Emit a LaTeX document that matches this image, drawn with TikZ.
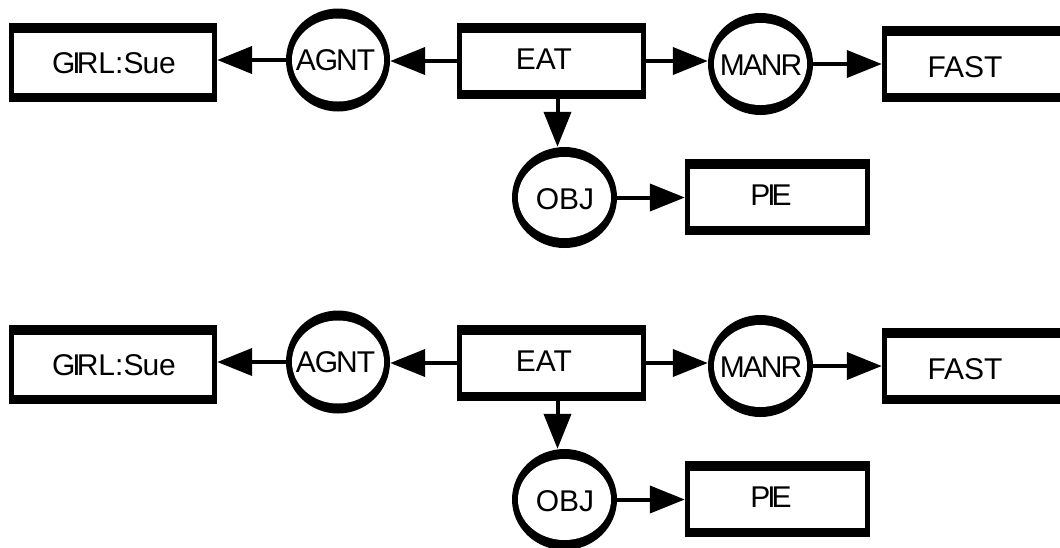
\documentclass[tikz,border=0pt]{standalone}
\usepackage{fontspec}
\setmainfont{Liberation Sans}
\usetikzlibrary{arrows.meta,shapes.geometric,calc}

% label centred on the node (cap height), nudged by #1 right and #2 down
\newcommand\ctext[3]{\makebox[0pt]{\hspace*{#1}\hspace*{#1}\raisebox{\dimexpr-0.358em-#2\relax}[0pt][0pt]{#3}}}

\begin{document}
\begin{tikzpicture}[x=1pt,y=-1pt,
  lbl/.style={font=\fontsize{30pt}{36pt}\selectfont},
  cgbox/.style n args={2}{rectangle, draw=none, fill=black, inner sep=0pt, lbl,
    minimum width=#1, minimum height=#2,
    path picture={\fill[white] ([xshift=5pt,yshift=-10pt]path picture bounding box.north west)
      rectangle ([xshift=-5pt,yshift=9pt]path picture bounding box.south east);}},
  cgrel/.style n args={2}{ellipse, draw=none, fill=black, inner sep=0pt, lbl,
    minimum width=#1, minimum height=#2,
    path picture={\fill[white] (path picture bounding box.center)
      ellipse [x radius=#1/2-6pt, y radius=#2/2-10pt];}},
  arr/.style={line width=4pt, -{Triangle[length=35pt,width=27pt]}}]

\clip (0,0) rectangle (1060,547);
\fill[white] (0,0) rectangle (1060,547);

\foreach \k/\dy in {a/0, b/302}{
\begin{scope}[shift={(0,\dy)}]
  \node[cgbox={208pt}{79pt}]  (girl\k) at (113,62.5)   {\ctext{1pt}{0.5pt}{G\kern-3pt I\kern-4pt RL:S\kern-1pt ue}};
  \node[cgrel={104pt}{103pt}] (agnt\k) at (338,60)     {\ctext{-2.5pt}{0pt}{A\kern-1pt G\kern-2pt N\kern-1pt T}};
  \node[cgbox={189pt}{76pt}]  (eat\k)  at (551.5,61)   {\ctext{-7.5pt}{-2pt}{EAT}};
  \node[cgrel={105pt}{102pt}] (manr\k) at (760.5,64)   {\ctext{0.5pt}{1pt}{M\kern-2pt A\kern-2pt N\kern-2pt R}};
  \node[cgbox={184pt}{76pt}]  (fast\k) at (974,64)     {\ctext{-9pt}{3pt}{FAST}};
  \node[cgrel={105pt}{101pt}] (obj\k)  at (564.5,197.5){\ctext{0.5pt}{1.5pt}{OBJ}};
  \node[cgbox={185pt}{76pt}]  (pie\k)  at (777.5,197)  {\ctext{-6.5pt}{-2pt}{P\kern-3pt I\kern-4pt E}};

  \draw[arr] (agnt\k.west) -- (girl\k.east |- agnt\k.west);
  \draw[arr] (eat\k.west) -- (agnt\k.east |- eat\k.west);
  \draw[arr] (eat\k.east) -- (manr\k.west |- eat\k.east);
  \draw[arr] (manr\k.east) -- (fast\k.west |- manr\k.east);
  \draw[arr] ($(obj\k.north |- eat\k.south)+(-7,0)$) -- ($(obj\k.north)+(-7,0)$);
  \draw[arr] (obj\k.east) -- (pie\k.west |- obj\k.east);
\end{scope}
}
\end{tikzpicture}
\end{document}
